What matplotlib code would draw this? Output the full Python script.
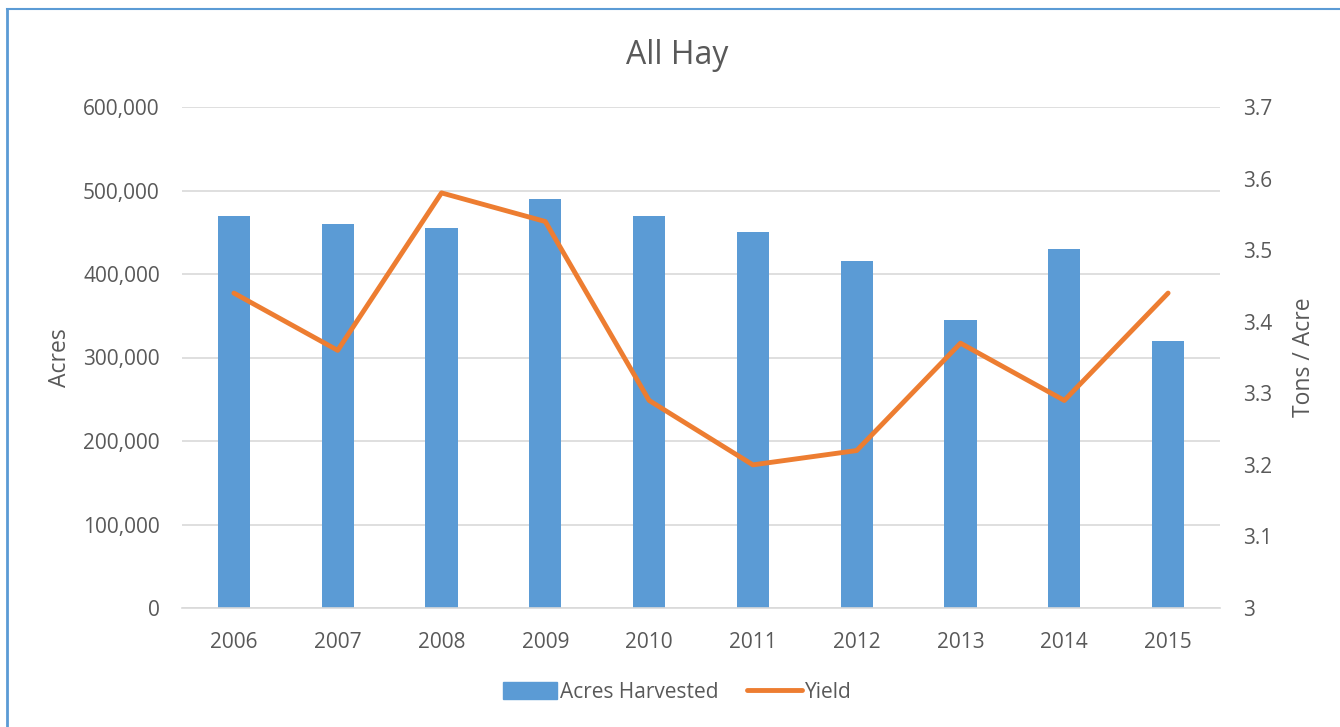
import matplotlib
matplotlib.use("Agg")
import matplotlib.pyplot as plt
from matplotlib.lines import Line2D
import numpy as np

years = ["2006", "2007", "2008", "2009", "2010", "2011", "2012", "2013", "2014", "2015"]
acres = [470000, 460000, 455000, 490000, 470000, 450000, 415000, 345000, 430000, 320000]
yield_ = [3.44, 3.36, 3.58, 3.54, 3.29, 3.20, 3.22, 3.37, 3.29, 3.44]

left_ticks = [0, 100000, 200000, 300000, 400000, 500000, 600000]
right_ticks = [3, 3.1, 3.2, 3.3, 3.4, 3.5, 3.6, 3.7]
right_labels = ["3", "3.1", "3.2", "3.3", "3.4", "3.5", "3.6", "3.7"]

TXT = "#595959"
BLUE = "#5B9BD5"
ORANGE = "#ED7D31"
GRID = "#D9D9D9"

plt.rcParams["font.family"] = ["Open Sans", "DejaVu Sans"]

fig = plt.figure(figsize=(13.4, 7.27), dpi=100)
ax = fig.add_axes([182/1340, 1-608/727, (1220-182)/1340, (608-107)/727])
ax2 = ax.twinx()

x = np.arange(len(years))
ax.bar(x, acres, width=0.31, color=BLUE, zorder=2, label="Acres Harvested")
ax.set_xlim(-0.5, len(years)-0.5)
ax.set_ylim(0, 600000)
ax.set_yticks(left_ticks)
ax.set_yticklabels([f"{v:,}" for v in left_ticks])
ax.set_xticks(x)
ax.set_xticklabels(years)
ax.grid(axis="y", color=GRID, lw=1.2, zorder=0)
ax.set_axisbelow(True)

ax2.plot(x, yield_, color=ORANGE, lw=3.5, solid_capstyle="round", solid_joinstyle="round", zorder=3)
ax2.set_ylim(3, 3.7)
ax2.set_yticks(right_ticks)
ax2.set_yticklabels(right_labels)

for a in (ax, ax2):
  for s in a.spines.values():
    s.set_visible(False)
  a.tick_params(length=0, labelsize=15, colors=TXT)
ax.spines["bottom"].set_visible(True)
ax.spines["bottom"].set_color(GRID)
ax.spines["bottom"].set_linewidth(1.2)
ax.tick_params(axis="y", pad=16)
ax.tick_params(axis="x", pad=17)
ax2.tick_params(axis="y", pad=16.5)

ax.set_ylabel("Acres", fontsize=16.5, color=TXT, labelpad=8)
ax2.set_ylabel("Tons / Acre", fontsize=16.5, color=TXT, labelpad=14)
fig.text(677/1340, 1-55/727, "All Hay", ha="center", va="center", fontsize=23, color=TXT)

handles = [plt.Rectangle((0, 0), 1, 1, color=BLUE),
           Line2D([0], [0], color=ORANGE, lw=3.5, solid_capstyle="round")]
fig.legend(handles, ["Acres Harvested", "Yield"], loc="center", bbox_to_anchor=(677/1340, 1-692/727),
           ncol=2, frameon=False, fontsize=15, labelcolor=TXT, handlelength=2.6,
           handleheight=0.9, handletextpad=0.15, columnspacing=1.4)

# border on top and left
fig.add_artist(Line2D([6.5/1340, 1], [1-8.5/727, 1-8.5/727], color=BLUE, lw=1.5, transform=fig.transFigure))
fig.add_artist(Line2D([6.5/1340, 6.5/1340], [0, 1-8.5/727], color=BLUE, lw=2, transform=fig.transFigure))

fig.savefig("out.png", dpi=100)
